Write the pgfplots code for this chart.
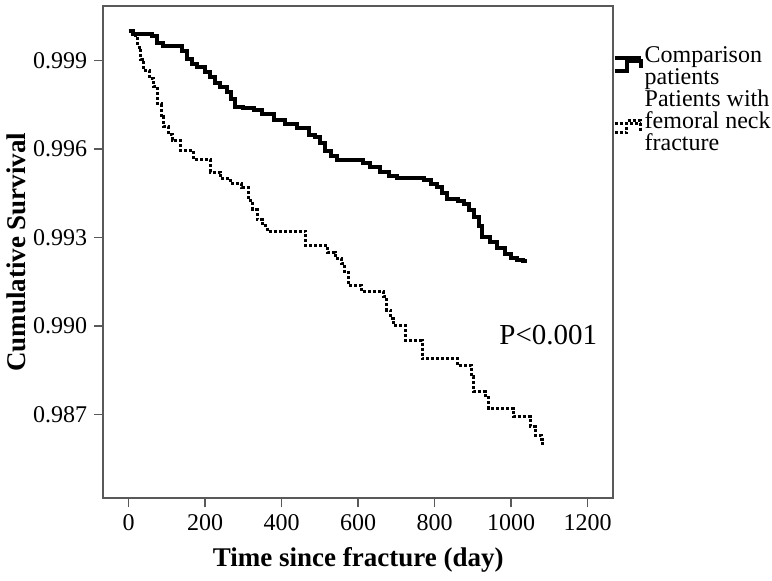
\documentclass[border=0pt]{standalone}
\usepackage{fontspec}
\setmainfont{Liberation Serif}
\usepackage{pgfplots}
\pgfplotsset{compat=1.18}
\usepackage{pgfplotstable}
\pgfplotstableread{
t s
0 1.00000
12 0.99991
62 0.99982
75 0.99960
90 0.99950
140 0.99933
153 0.99905
165 0.99890
179 0.99878
200 0.99860
214 0.99844
225 0.99825
238 0.99811
258 0.99794
268 0.99770
279 0.99743
300 0.99738
327 0.99732
350 0.99718
379 0.99700
410 0.99685
440 0.99670
471 0.99648
488 0.99641
500 0.99620
514 0.99592
530 0.99575
545 0.99562
614 0.99552
630 0.99540
658 0.99522
680 0.99510
701 0.99503
771 0.99495
790 0.99482
806 0.99470
820 0.99450
832 0.99432
860 0.99425
876 0.99415
890 0.99395
902 0.99370
915 0.99340
924 0.99302
945 0.99285
963 0.99263
985 0.99245
1000 0.99232
1015 0.99223
1030 0.99220
1041 0.99220
}\comparison
\pgfplotstableread{
t s
0 1.00000
10 0.99985
23 0.99946
32 0.99905
40 0.99867
55 0.99840
66 0.99811
75 0.99754
85 0.99710
92 0.99675
105 0.99650
114 0.99630
136 0.99596
170 0.99565
214 0.99522
240 0.99500
266 0.99483
296 0.99468
314 0.99426
325 0.99395
336 0.99360
350 0.99340
362 0.99322
462 0.99274
520 0.99250
540 0.99230
557 0.99212
565 0.99180
574 0.99138
609 0.99116
666 0.99100
675 0.99054
685 0.99025
692 0.99003
723 0.98952
767 0.98890
860 0.98867
897 0.98830
902 0.98777
933 0.98765
941 0.98720
1006 0.98692
1050 0.98658
1063 0.98630
1080 0.98615
1083 0.98602
1084 0.98602
}\fracture
\pgfplotsset{
  legsolid/.style={legend image code/.code={\path (0pt,0pt) -- (13pt,0pt);\draw[overlay, black, line width=2pt] (0pt,-6.5pt) -- (6pt,-6.5pt) -- (6pt,-1.5pt) -- (13pt,-1.5pt) -- (13pt,-5pt);}},
  legdot/.style={legend image code/.code={\path (0pt,0pt) -- (13pt,0pt);\draw[overlay, black, line width=1.5pt, dash pattern=on 1.5pt off 1pt] (0pt,-4.5pt) -- (6pt,-4.5pt) -- (6pt,1.5pt) -- (13pt,1.5pt) -- (13pt,-4.5pt);}},
}
\begin{document}
\begin{tikzpicture}
\useasboundingbox (-51.65pt,-40.85pt) rectangle (334.35pt,249.15pt);
\begin{axis}[
  at={(0,0)}, anchor=south west,
  scale only axis,
  width=255pt, height=246pt,
  xmin=-66, xmax=1267,
  ymin=0.98416, ymax=1.00084,
  enlargelimits=false,
  xtick={0,200,400,600,800,1000,1200},
  ytick={0.987,0.990,0.993,0.996,0.999},
  xtick pos=bottom, ytick pos=left,
  tick align=outside,
  major tick length=4.5pt,
  axis line style={black!65, line width=0.9pt},
  tick style={black!65, line width=0.8pt},
  /pgf/number format/assume math mode=true,
  yticklabel style={/pgf/number format/.cd, fixed, fixed zerofill, precision=3},
  xticklabel style={/pgf/number format/.cd, fixed, precision=0, set thousands separator={}},
  ticklabel style={font=\fontsize{12}{14}\selectfont},
  xlabel={\textbf{Time since fracture (day)}},
  ylabel={\textbf{Cumulative Survival}},
  label style={font=\fontsize{13.5}{16}\selectfont},
  x label style={at={(axis description cs:0.5,-0.1396)}, anchor=base},
  y label style={at={(axis description cs:-0.1535,0.5)}, anchor=base},
  legend style={at={(rel axis cs:1,1)}, anchor=north west, yshift=-20pt, xshift=-0.5pt,
    draw=none, fill=none, inner sep=0pt, row sep=0pt, column sep=1pt,
    font=\fontsize{12}{11}\selectfont,
    nodes={inner sep=0pt, text height=8pt, text depth=3pt}},
  legend cell align=left,
  clip=false,
]
\addplot[const plot, black, line width=2pt, legsolid] table[x=t, y=s] {\comparison};
\addlegendentry{Comparison}
\addlegendimage{empty legend}
\addlegendentry{patients}
\addlegendimage{empty legend}
\addlegendentry{Patients with}
\addplot[const plot, black, line width=1.5pt, dash pattern=on 1.5pt off 1pt, legdot] table[x=t, y=s] {\fracture};
\addlegendentry{femoral neck}
\addlegendimage{empty legend}
\addlegendentry{fracture}
\node[font=\fontsize{14.5}{16}\selectfont] at (axis cs:1097,0.98969) {P<0.001};
\end{axis}
\end{tikzpicture}
\end{document}
